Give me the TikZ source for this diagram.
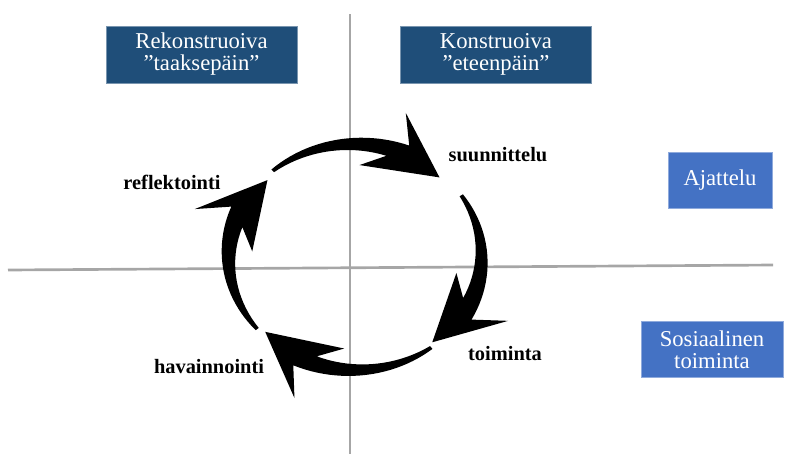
\documentclass[tikz,border=0pt]{standalone}
\usepackage{fontspec}
\setmainfont{Liberation Serif}
\usetikzlibrary{calc}
\definecolor{tummasin}{HTML}{1F4E79}
\definecolor{vaalsin}{HTML}{4472C4}
\definecolor{akseli}{HTML}{A6A6A6}
\tikzset{
  laatikko/.style = {align=center, inner sep=0pt, text centered, white, font=\fontsize{17}{16.5}\selectfont},
  laatikko_t/.style = {laatikko, fill=tummasin, draw=tummasin!60!white, minimum width=143pt, minimum height=42.75pt},
  laatikko_v/.style = {laatikko, fill=vaalsin, draw=vaalsin!60!white, minimum height=42pt},
  vaihe/.style = {inner sep=0pt, font=\bfseries\fontsize{15.3}{18}\selectfont},
  akseli_v/.style = {draw=akseli, line width=2pt}
}

\begin{document}
\begin{tikzpicture}[x=0.75pt, y=-0.75pt]
\useasboundingbox (0,0) rectangle (788,454);
% akselit
\coordinate (v_yla) at (350,14);
\coordinate (v_ala) at (350,454);
\coordinate (h_vas) at (8,270);
\coordinate (h_oik) at (773,265);
\draw [akseli_v] (v_yla) -- (v_ala);
\draw [akseli_v] (h_vas) -- (h_oik);
% laatikot
\node [laatikko_t] (rekon) at (201.5,54.5) {Rekonstruoiva\\”taaksepäin”};
\node [laatikko_t] (konstr) at (496,54.5) {Konstruoiva\\”eteenpäin”};
\node [laatikko_v, minimum width=78pt] (ajattelu) at (720,180) {Ajattelu};
\node [laatikko_v, minimum width=106.5pt] (sostoim) at (712,349.5) {Sosiaalinen\\toiminta};
% kehän nuolet
\foreach \s in {130.5,33,-53,219.5}{
  \pgfmathsetmacro\b{\s-64}
  \pgfmathsetmacro\c{\s-56}
  \fill [black] plot[domain=\s:\b, samples=25] ({355+132*(0.975+0.055*(\s-\x)/64)*cos(\x)}, {257-118*(0.975+0.055*(\s-\x)/64)*sin(\x)})
    -- ({355+132*1.28*cos(\s-58)}, {257-118*1.28*sin(\s-58)})
    -- ({355+132*0.93*cos(\s-84)}, {257-118*0.93*sin(\s-84)})
    -- ({355+132*0.78*cos(\s-43)}, {257-118*0.78*sin(\s-43)})
    -- plot[domain=\c:\s, samples=20] ({355+132*(0.945-0.055*(\s-\x)/56)*cos(\x)}, {257-118*(0.945-0.055*(\s-\x)/56)*sin(\x)})
    -- cycle;
}
% vaiheet
\node [vaihe] (suunn) at (498,155) {suunnittelu};
\node [vaihe] (refl) at (172,182) {reflektointi};
\node [vaihe] (toim) at (505,354) {toiminta};
\node [vaihe] (havain) at (209,367) {havainnointi};
\end{tikzpicture}
\end{document}
